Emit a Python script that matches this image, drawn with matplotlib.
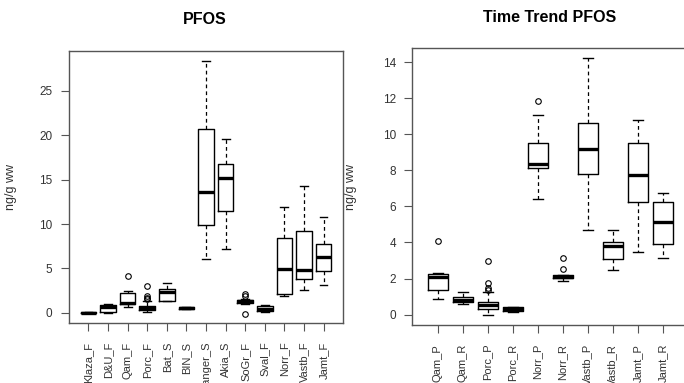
import matplotlib
matplotlib.use('Agg')
import matplotlib.pyplot as plt

plt.rcParams['font.family'] = ['Liberation Sans', 'DejaVu Sans']

# left panel: PFOS by site
pfos_labels = ['Klaza_F', 'D&U_F', 'Qam_F', 'Porc_F', 'Bat_S', 'BIN_S', 'Langer_S',
               'Akia_S', 'SoGr_F', 'Sval_F', 'Norr_F', 'Vastb_F', 'Jamt_F']
pfos_whislo = [-0.05, 0.0, 0.6, 0.05, 1.36, 0.4, 6.0, 7.2, 1.0, 0.05, 1.92, 2.56, 3.12]
pfos_q1 = [-0.03, 0.05, 0.94, 0.3, 1.36, 0.45, 9.9, 11.5, 1.1, 0.19, 2.07, 3.8, 4.7]
pfos_med = [0.0, 0.6, 1.1, 0.5, 2.35, 0.52, 13.65, 15.2, 1.28, 0.45, 4.9, 4.8, 6.28]
pfos_q3 = [0.03, 0.85, 2.2, 0.75, 2.63, 0.62, 20.7, 16.77, 1.45, 0.75, 8.38, 9.2, 7.74]
pfos_whishi = [0.05, 1.0, 2.4, 1.35, 3.3, 0.65, 28.4, 19.6, 1.5, 0.86, 11.95, 14.3, 10.83]
pfos_fliers = [[], [], [4.1], [3.05, 1.85, 1.7, 1.5], [], [], [], [],
               [2.07, 1.9, -0.15], [], [], [], []]

# right panel: time trend
tt_labels = ['Qam_P', 'Qam_R', 'Porc_P', 'Porc_R', 'Norr_P', 'Norr_R',
             'Vastb_P', 'Vastb_R', 'Jamt_P', 'Jamt_R']
tt_whislo = [0.87, 0.59, -0.05, 0.15, 6.43, 1.87, 4.71, 2.49, 3.45, 3.14]
tt_q1 = [1.35, 0.68, 0.31, 0.19, 8.13, 2.02, 7.79, 3.1, 6.24, 3.91]
tt_med = [2.09, 0.83, 0.55, 0.3, 8.35, 2.09, 9.18, 3.79, 7.76, 5.15]
tt_q3 = [2.25, 0.98, 0.72, 0.41, 9.51, 2.18, 10.62, 4.03, 9.51, 6.24]
tt_whishi = [2.3, 1.24, 1.24, 0.42, 11.08, 2.2, 14.22, 4.67, 10.77, 6.72]
tt_fliers = [[4.06], [], [2.97, 1.73, 1.45, 1.35], [], [11.86], [3.14, 2.53],
             [], [], [], []]

TEXT = '#333333'
FRAME = '#555555'


def make_stats(labels, whislo, q1, med, q3, whishi, fliers):
    return [dict(label=lab, whislo=a, q1=b, med=c, q3=d, whishi=e, fliers=f)
            for lab, a, b, c, d, e, f in zip(labels, whislo, q1, med, q3, whishi, fliers)]


def r_boxplot(ax, stats, yticks, ylim):
    n = len(stats)
    ax.bxp(stats, positions=range(1, n + 1), widths=0.8, capwidths=0.4,
           boxprops=dict(color='black', linewidth=1.0),
           medianprops=dict(color='black', linewidth=2.4, solid_capstyle='butt'),
           whiskerprops=dict(color='black', linewidth=0.9, linestyle=(0, (3, 2.5))),
           capprops=dict(color='black', linewidth=1.0),
           flierprops=dict(marker='o', markersize=4, markerfacecolor='none',
                           markeredgecolor='black', markeredgewidth=0.8))
    ax.set_xlim(1 - 1.02, n + 1.02)
    ax.set_ylim(*ylim)
    ax.set_yticks(yticks)
    ax.set_xticks(range(1, n + 1))
    ax.set_xticklabels([s['label'] for s in stats], rotation=90)
    ax.tick_params(direction='out', length=5.5, width=0.8, color=FRAME,
                   labelsize=8.5, labelcolor=TEXT)
    ax.tick_params(axis='y', pad=6)
    ax.tick_params(axis='x', pad=8, labelsize=8)
    for sp in ax.spines.values():
        sp.set_color(FRAME)
        sp.set_linewidth(1.0)
    ax.set_ylabel('ng/g ww', fontsize=9, color=TEXT)


fig = plt.figure(figsize=(6.84, 3.83), dpi=100)

ax1 = fig.add_axes([68.5 / 684, 60 / 383, 275 / 684, 272.3 / 383])
r_boxplot(ax1, make_stats(pfos_labels, pfos_whislo, pfos_q1, pfos_med, pfos_q3,
                          pfos_whishi, pfos_fliers),
          [0, 5, 10, 15, 20, 25], (-1.16, 29.54))
ax1.yaxis.set_label_coords(-0.187, 0.5)

ax2 = fig.add_axes([412 / 684, 58 / 383, 276 / 684, 277 / 383])
r_boxplot(ax2, make_stats(tt_labels, tt_whislo, tt_q1, tt_med, tt_q3,
                          tt_whishi, tt_fliers),
          [0, 2, 4, 6, 8, 10, 12, 14], (-0.58, 14.79))
ax2.yaxis.set_label_coords(-0.199, 0.5)

fig.text(205 / 684, 1 - 20 / 383, 'PFOS', ha='center', va='center',
         fontsize=11.5, fontweight='bold')
fig.text(550 / 684, 1 - 17 / 383, 'Time Trend PFOS', ha='center', va='center',
         fontsize=11.5, fontweight='bold')

fig.savefig('out.png', dpi=100)
